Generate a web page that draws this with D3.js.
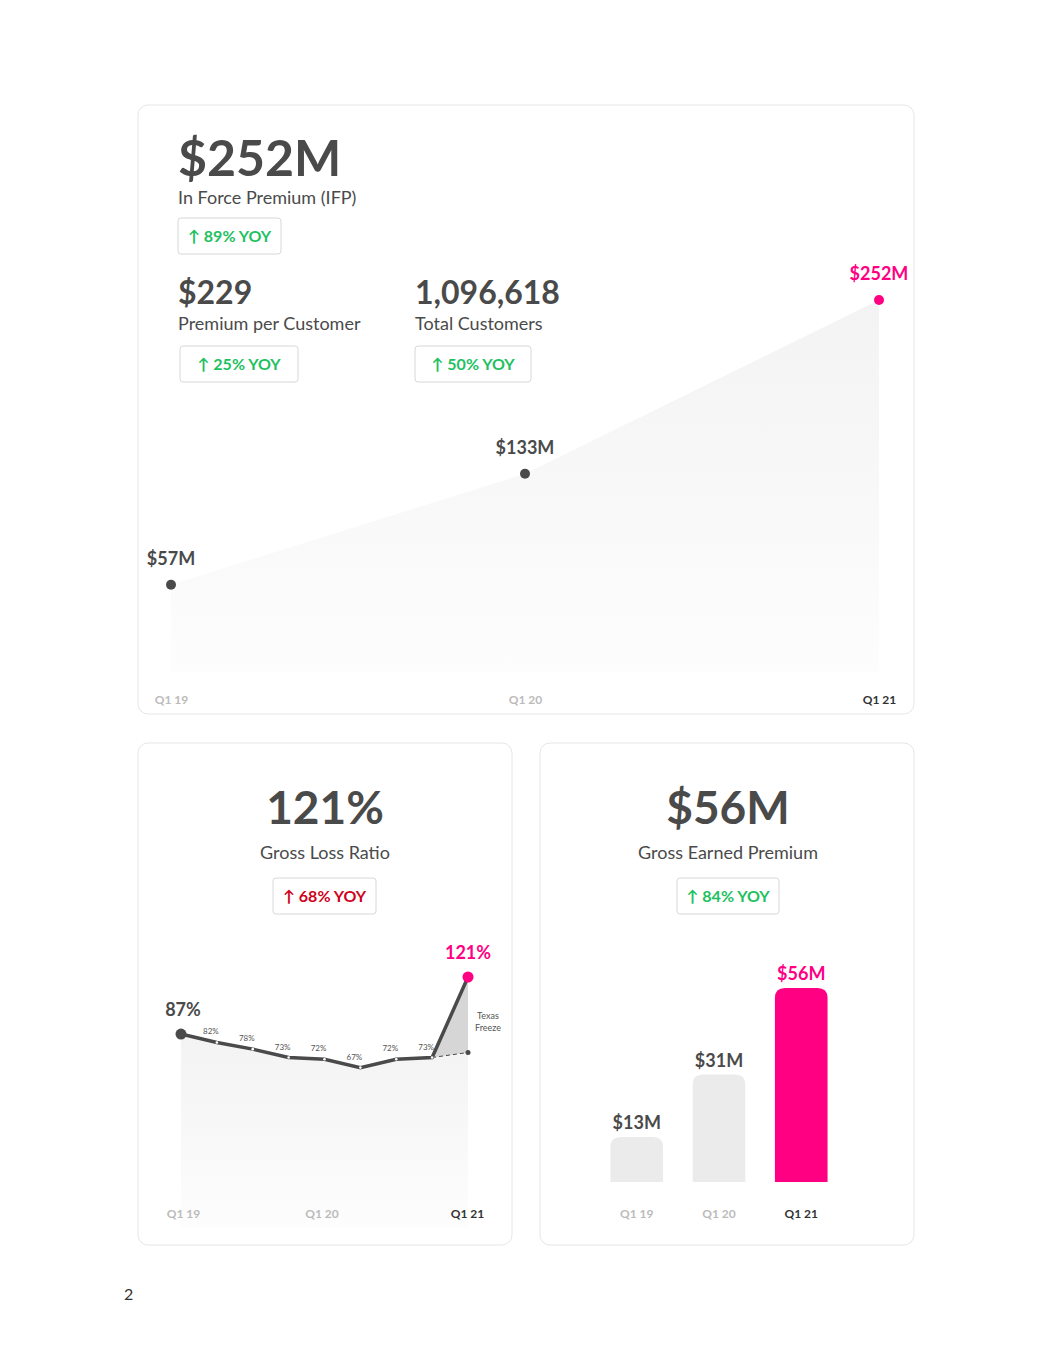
<!DOCTYPE html>
<html><head><meta charset="utf-8">
<script src="https://cdn.jsdelivr.net/npm/d3@7"></script>
<style>body{margin:0;background:#fff;font-family:Lato,"Open Sans",sans-serif}</style>
</head><body><svg id="c"></svg>
<script>
let ifpQuarters = ['Q1 19', 'Q1 20', 'Q1 21'];
let ifpValues = [57, 133, 252];

let glrQuarters = ['Q1 19','Q2 19','Q3 19','Q4 19','Q1 20','Q2 20','Q3 20','Q4 20','Q1 21'];
let glrValues = [87, 82, 78, 73, 72, 67, 72, 73, 121];
let glrExFreeze = 76;

let gepQuarters = ['Q1 19', 'Q1 20', 'Q1 21'];
let gepValues = [13, 31, 56];

let pink = '#ff0083', dark = '#4a4a4a', green = '#1ec15f', red = '#d0021b';
let width = 1055, height = 1365;
let svg = d3.select('#c').attr('width', width).attr('height', height);

let defs = svg.append('defs');
let grad = defs.append('linearGradient').attr('id', 'fade').attr('x1', 0).attr('y1', 0).attr('x2', 0).attr('y2', 1);
grad.append('stop').attr('offset', '0%').attr('stop-color', '#f3f3f3');
grad.append('stop').attr('offset', '100%').attr('stop-color', '#fdfdfd');

let card = (x, y, w, h) => svg.append('rect').attr('x', x).attr('y', y).attr('width', w).attr('height', h)
  .attr('rx', 10).attr('fill', '#fff').attr('stroke', '#e6e6e6');
card(138, 105, 776, 609);
card(138, 743, 374, 502);
card(540, 743, 374, 502);

let text = (x, y, s, size, fill, weight, anchor) => svg.append('text').attr('x', x).attr('y', y).text(s)
  .attr('font-size', size).attr('fill', fill).attr('font-weight', weight || 400).attr('text-anchor', anchor || 'start');
let badge = (x, y, w, s, color) => {
  svg.append('rect').attr('x', x).attr('y', y).attr('width', w).attr('height', 36).attr('rx', 3)
    .attr('fill', '#fff').attr('stroke', '#d8d8d8');
  text(x + w / 2, y + 24, s, 16, color, 700, 'middle');
};

// header of top card
text(178, 176, '$252M', 50, dark, 700);
text(178, 204, 'In Force Premium (IFP)', 18, dark);
badge(178, 218, 103, '↑ 89% YOY', green);
text(178, 304, '$229', 32, dark, 700);
text(178, 330, 'Premium per Customer', 18, dark);
badge(180, 346, 118, '↑ 25% YOY', green);
text(415, 304, '1,096,618', 32, dark, 700);
text(415, 330, 'Total Customers', 18, dark);
badge(415, 346, 116, '↑ 50% YOY', green);

// IFP area
let x1 = d3.scalePoint().domain(ifpQuarters).range([171, 879]);
let y1 = d3.scaleLinear().domain([0, 252]).range([668, 300]);
let ifpData = ifpQuarters.map((q, i) => ({q, v: ifpValues[i]}));
svg.append('path').datum(ifpData).attr('fill', 'url(#fade)')
  .attr('d', d3.area().x(d => x1(d.q)).y0(672).y1(d => y1(d.v)));
svg.selectAll('.ifpdot').data(ifpData).enter().append('circle')
  .attr('cx', d => x1(d.q)).attr('cy', d => y1(d.v)).attr('r', 5)
  .attr('fill', (d, i) => i === 2 ? pink : dark);
svg.selectAll('.ifplab').data(ifpData).enter().append('text')
  .attr('x', (d, i) => i === 0 ? x1(d.q) : x1(d.q)).attr('y', d => y1(d.v) - 20)
  .attr('text-anchor', 'middle').attr('font-size', 18).attr('font-weight', 700)
  .attr('fill', (d, i) => i === 2 ? pink : dark).text(d => '$' + d.v + 'M');
let ax1 = svg.append('g').attr('transform', 'translate(0,695)')
  .call(d3.axisBottom(x1).tickSize(0).tickPadding(0));
ax1.select('.domain').remove();
ax1.selectAll('text').attr('font-size', 12).attr('font-weight', 700).attr('font-family', 'Lato')
  .attr('fill', (d, i) => i === 2 ? '#333' : '#bbb');

// Gross Loss Ratio
text(325, 824, '121%', 46, dark, 700, 'middle');
text(325, 859, 'Gross Loss Ratio', 18, dark, 400, 'middle');
badge(273, 878, 103, '↑ 68% YOY', red);

let x2 = d3.scalePoint().domain(glrQuarters).range([181, 468]);
let y2 = d3.scaleLinear().domain([0, 121]).range([1180, 977]);
let glr = glrQuarters.map((q, i) => ({q, v: glrValues[i]}));
svg.append('path').datum(glr.slice(0, 8).concat([{q: 'Q1 21', v: glrExFreeze}])).attr('fill', 'url(#fade)')
  .attr('d', d3.area().x(d => x2(d.q)).y0(1228).y1(d => y2(d.v)));
// freeze wedge
let last = [glr[7], glr[8], {q: 'Q1 21', v: glrExFreeze}];
svg.append('path').attr('fill', '#d6d6d6')
  .attr('d', d3.line().x(d => x2(d.q)).y(d => y2(d.v))(last) + 'Z');
svg.append('line').attr('x1', x2(glr[7].q)).attr('y1', y2(glr[7].v))
  .attr('x2', x2('Q1 21')).attr('y2', y2(glrExFreeze)).attr('stroke', dark).attr('stroke-dasharray', '4,3');
svg.append('circle').attr('cx', x2('Q1 21')).attr('cy', y2(glrExFreeze)).attr('r', 2.5).attr('fill', dark);
svg.append('path').datum(glr).attr('fill', 'none').attr('stroke', dark).attr('stroke-width', 3.5)
  .attr('d', d3.line().x(d => x2(d.q)).y(d => y2(d.v)));
svg.selectAll('.gdot').data(glr.slice(1, 8)).enter().append('circle')
  .attr('cx', d => x2(d.q)).attr('cy', d => y2(d.v)).attr('r', 1.3).attr('fill', '#fff');
svg.append('circle').attr('cx', x2('Q1 19')).attr('cy', y2(87)).attr('r', 5.5).attr('fill', dark);
svg.append('circle').attr('cx', x2('Q1 21')).attr('cy', y2(121)).attr('r', 5.5).attr('fill', pink);
text(x2('Q1 19') + 2, y2(87) - 18, '87%', 18, dark, 700, 'middle');
text(x2('Q1 21'), y2(121) - 18, '121%', 18, pink, 700, 'middle');
svg.selectAll('.glab').data(glr.slice(1, 8)).enter().append('text')
  .attr('x', d => x2(d.q) - (d.q === 'Q4 20' ? 6 : 6)).attr('y', d => y2(d.v) - 8)
  .attr('text-anchor', 'middle').attr('font-size', 8).attr('fill', '#555').text(d => d.v + '%');
text(488, 1019, 'Texas', 9, '#555', 400, 'middle');
text(488, 1031, 'Freeze', 9, '#555', 400, 'middle');
let ax2 = svg.append('g').attr('transform', 'translate(0,1209)')
  .call(d3.axisBottom(x2).tickSize(0).tickPadding(0).tickValues(['Q1 19', 'Q1 20', 'Q1 21']));
ax2.select('.domain').remove();
ax2.selectAll('text').attr('font-size', 12).attr('font-weight', 700).attr('font-family', 'Lato')
  .attr('fill', (d, i) => i === 2 ? '#333' : '#bbb')
  .attr('dx', (d, i) => i === 1 ? -3 : i === 2 ? -1 : 2);

// Gross Earned Premium
text(728, 824, '$56M', 46, dark, 700, 'middle');
text(728, 859, 'Gross Earned Premium', 18, dark, 400, 'middle');
badge(677, 878, 102, '↑ 84% YOY', green);

let x3 = d3.scaleBand().domain(gepQuarters).range([594, 844]).paddingInner(0.36).paddingOuter(0.2);
let y3 = d3.scaleLinear().domain([0, 56]).range([1182, 988]);
let gep = gepQuarters.map((q, i) => ({q, v: gepValues[i]}));
let barPath = d => {
  let x = x3(d.q), w = x3.bandwidth(), t = y3(d.v), b = y3(0), r = 10;
  return `M${x},${b}V${t + r}Q${x},${t} ${x + r},${t}H${x + w - r}Q${x + w},${t} ${x + w},${t + r}V${b}Z`;
};
svg.selectAll('.bar').data(gep).enter().append('path').attr('d', barPath)
  .attr('fill', (d, i) => i === 2 ? pink : '#ebebeb');
svg.selectAll('.blab').data(gep).enter().append('text')
  .attr('x', d => x3(d.q) + x3.bandwidth() / 2).attr('y', d => y3(d.v) - 8)
  .attr('text-anchor', 'middle').attr('font-size', 18).attr('font-weight', 700)
  .attr('fill', (d, i) => i === 2 ? pink : dark).text(d => '$' + d.v + 'M');
let ax3 = svg.append('g').attr('transform', `translate(0,1209)`)
  .call(d3.axisBottom(x3).tickSize(0).tickPadding(0));
ax3.select('.domain').remove();
ax3.selectAll('text').attr('font-size', 12).attr('font-weight', 700).attr('font-family', 'Lato')
  .attr('fill', (d, i) => i === 2 ? '#333' : '#bbb');

text(124, 1300, '2', 16, '#333');
</script></body></html>
